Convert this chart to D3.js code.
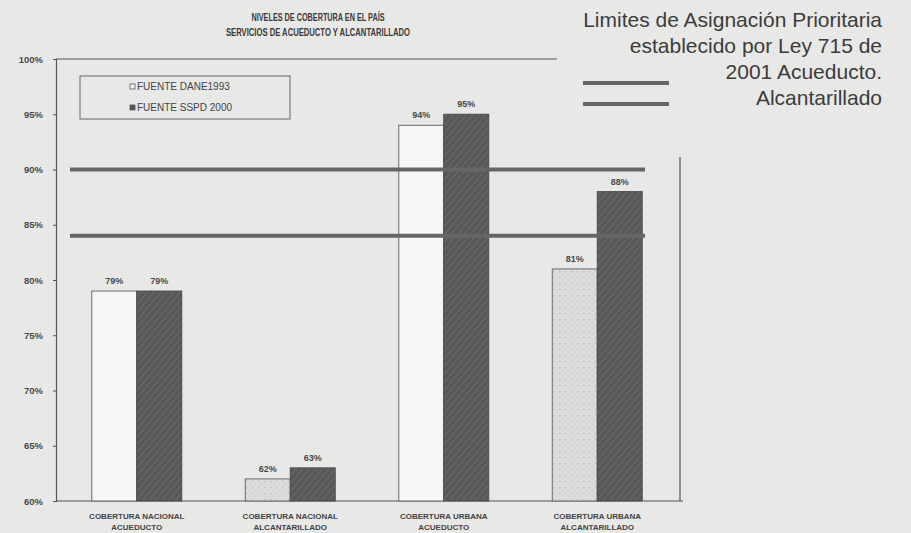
<!DOCTYPE html>
<html><head><meta charset="utf-8">
<script src="https://cdn.jsdelivr.net/npm/d3@7"></script>
<style>
html,body{margin:0;padding:0;background:#e8e8e6;}
svg{display:block;}
</style></head>
<body>
<svg id="c" width="911" height="533"></svg>
<script>
const categories = [
  ["COBERTURA NACIONAL", "ACUEDUCTO"],
  ["COBERTURA NACIONAL", "ALCANTARILLADO"],
  ["COBERTURA URBANA", "ACUEDUCTO"],
  ["COBERTURA URBANA", "ALCANTARILLADO"]
];
const seriesNames = ["FUENTE DANE1993", "FUENTE SSPD 2000"];
const dane1993 = [79, 62, 94, 81];
const sspd2000 = [79, 63, 95, 88];
const limits = [90, 84];
const yTicks = [60, 65, 70, 75, 80, 85, 90, 95, 100];
const titleLines = ["NIVELES DE COBERTURA EN EL PAÍS", "SERVICIOS DE ACUEDUCTO Y ALCANTARILLADO"];
const noteLines = ["Limites de Asignación Prioritaria", "establecido  por Ley 715 de", "2001 Acueducto.", "Alcantarillado"];

const svg = d3.select("#c");
const ink = "#3a3a3a";
const L = 56, R = 680, T = 59, B = 501;

const defs = svg.append("defs");
const hatch = defs.append("pattern").attr("id","hatch").attr("patternUnits","userSpaceOnUse")
  .attr("width",5).attr("height",5).attr("patternTransform","rotate(40)");
hatch.append("rect").attr("width",5).attr("height",5).attr("fill","#585858");
hatch.append("line").attr("x1",0).attr("y1",0).attr("x2",0).attr("y2",5).attr("stroke","#777").attr("stroke-width",1.2);
const stip = defs.append("pattern").attr("id","stip").attr("patternUnits","userSpaceOnUse")
  .attr("width",6).attr("height",6);
stip.append("rect").attr("width",6).attr("height",6).attr("fill","#dcdcda");
stip.append("circle").attr("cx",1.5).attr("cy",1.5).attr("r",0.7).attr("fill","#b8b8b6");
stip.append("circle").attr("cx",4.5).attr("cy",4).attr("r",0.6).attr("fill","#c4c4c2");

const y = d3.scaleLinear().domain([60, 100]).range([B, T]);
const x0 = d3.scaleBand().domain(d3.range(categories.length)).range([60, 674]).paddingInner(0.414).paddingOuter(0.207);
const x1 = d3.scaleBand().domain([0, 1]).range([0, x0.bandwidth()]);

// title
svg.append("g").selectAll("text").data(titleLines).join("text")
  .attr("x", 318).attr("y", (d,i) => 21 + i*15)
  .attr("text-anchor","middle")
  .attr("font-family","'Liberation Sans',Arial,sans-serif")
  .attr("font-weight","bold").attr("font-size", 10.5).attr("fill", ink)
  .attr("textLength", (d,i) => [133, 184][i]).attr("lengthAdjust","spacingAndGlyphs")
  .text(d => d);

// note text
svg.append("g").selectAll("text").data(noteLines).join("text")
  .attr("x", 882).attr("y", (d,i) => 27 + i*26)
  .attr("text-anchor","end")
  .attr("font-family","'Liberation Sans',Arial,sans-serif")
  .attr("font-size", 21).attr("fill", "#3c3c3c")
  .text(d => d);

// note legend lines
svg.append("g").selectAll("line").data(limits).join("line")
  .attr("x1", 583).attr("x2", 669)
  .attr("y1", (d,i) => 83 + i*21).attr("y2", (d,i) => 83 + i*21)
  .attr("stroke","#666").attr("stroke-width",4);

// frame lines
svg.append("line").attr("x1", L).attr("x2", 557).attr("y1", T).attr("y2", T).attr("stroke", "#555").attr("stroke-width",1);
svg.append("line").attr("x1", R).attr("x2", R).attr("y1", 157).attr("y2", B).attr("stroke", "#555").attr("stroke-width",1.2);

// y axis
const yAxis = svg.append("g").attr("transform", `translate(${L},0)`)
  .call(d3.axisLeft(y).tickValues(yTicks).tickFormat(d => d + "%").tickSize(3).tickPadding(10));
yAxis.select(".domain").attr("stroke","#555").attr("stroke-width",1.2);
yAxis.selectAll(".tick line").attr("stroke","#555");
yAxis.selectAll("text").attr("font-family","'Liberation Sans',sans-serif")
  .attr("font-weight","bold").attr("font-size",9.5).attr("fill","#4a4a4a");

// x axis baseline
svg.append("line").attr("x1", L).attr("x2", R+3).attr("y1", B).attr("y2", B).attr("stroke","#555").attr("stroke-width",1.2);

// bars
const groups = svg.append("g").selectAll("g").data(categories.map((c,i) => i)).join("g")
  .attr("transform", i => `translate(${x0(i)},0)`);
const vals = [dane1993, sspd2000];
groups.selectAll("rect").data(i => [0,1].map(s => ({s, i, v: vals[s][i]}))).join("rect")
  .attr("x", d => x1(d.s)).attr("width", x1.bandwidth())
  .attr("y", d => y(d.v)).attr("height", d => y(60) - y(d.v))
  .attr("fill", d => d.s === 1 ? "url(#hatch)" : (d.i % 2 === 1 ? "url(#stip)" : "#f7f7f5"))
  .attr("stroke", d => d.s === 1 ? "#4e4e4e" : "#6a6a6a").attr("stroke-width", 1);
groups.selectAll("text").data(i => [0,1].map(s => ({s, i, v: vals[s][i]}))).join("text")
  .attr("x", d => x1(d.s) + x1.bandwidth()/2).attr("y", d => y(d.v) - 7)
  .attr("text-anchor","middle")
  .attr("font-family","'Liberation Sans',sans-serif")
  .attr("font-weight","bold").attr("font-size",9).attr("fill","#4a4a4a")
  .text(d => d.v + "%");

// limit lines
svg.append("g").selectAll("line").data(limits).join("line")
  .attr("x1", 70).attr("x2", 645)
  .attr("y1", d => y(d)).attr("y2", d => y(d))
  .attr("stroke","#666").attr("stroke-width",4);

// category labels
const cl = svg.append("g").selectAll("text").data(categories.map((c,i)=>({c,i}))).join("text")
  .attr("text-anchor","middle")
  .attr("font-family","'Liberation Sans',sans-serif")
  .attr("font-weight","bold").attr("font-size",8).attr("fill","#444");
cl.each(function(d){
  const t = d3.select(this);
  d.c.forEach((line, k) => t.append("tspan").attr("x", x0(d.i) + x0.bandwidth()/2).attr("y", 519 + k*11).text(line));
});

// legend box
const lg = svg.append("g");
lg.append("rect").attr("x",80).attr("y",76).attr("width",210).attr("height",43)
  .attr("fill","none").attr("stroke","#666").attr("stroke-width",1);
const li = lg.selectAll("g").data(seriesNames).join("g")
  .attr("transform", (d,i) => `translate(130,${90 + i*21})`);
li.append("rect").attr("x",0).attr("y",-6).attr("width",5).attr("height",5)
  .attr("fill", (d,i) => i ? "#555" : "#f7f7f5").attr("stroke","#555").attr("stroke-width",0.8);
li.append("text").attr("x",7).attr("y",0)
  .attr("font-family","'Liberation Sans',sans-serif")
  .attr("font-size",10).attr("fill","#444").text(d => d);
</script>
</body></html>
